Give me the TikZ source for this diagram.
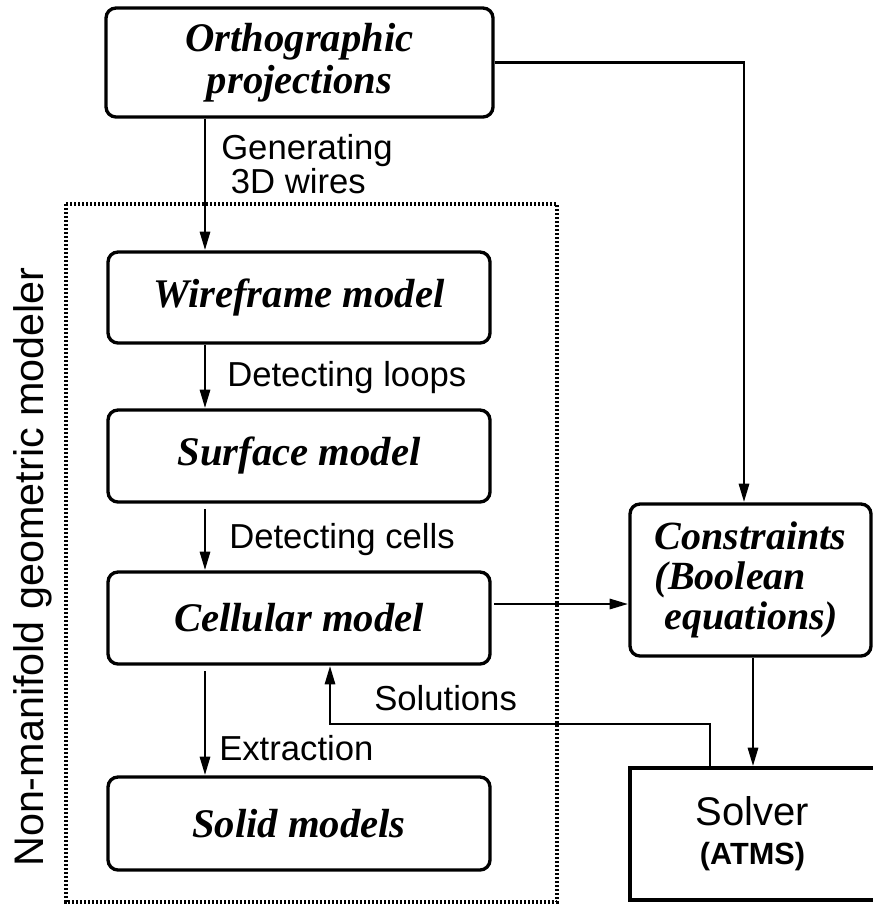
\documentclass[tikz,border=0pt]{standalone}
\usepackage{fontspec}
\setmainfont{Liberation Serif}
\setsansfont{Liberation Sans}
\usetikzlibrary{arrows.meta}
\begin{document}
\begin{tikzpicture}[x=0.75pt,y=-0.75pt,
  box/.style={draw, line width=2.5pt, rounded corners=7.5pt, inner sep=0pt,
    font=\fontsize{30.5}{31.5}\selectfont\bfseries\itshape},
  lbl/.style={font=\sffamily\fontsize{26}{26}\selectfont, inner sep=0pt, anchor=west, align=left},
  arr/.style={line width=2.2pt, -{Triangle[length=14pt,width=7.5pt]}},
  frame/.style={line width=2.4pt, dash pattern=on 1.7pt off 1.3pt}]
\useasboundingbox (0,0) rectangle (873,904);
% boxes
\node[box, minimum width=387*0.75pt, minimum height=109*0.75pt, align=center] (ortho) at (299.5,62.5) {Orthographic\\projections};
\node[box, minimum width=382*0.75pt, minimum height=91*0.75pt] (wire) at (299,297.5) {Wireframe model};
\node[box, minimum width=382*0.75pt, minimum height=92*0.75pt] (surf) at (299,456) {Surface model};
\node[box, minimum width=382*0.75pt, minimum height=92*0.75pt] (cell) at (299,618) {Cellular model};
\node[box, minimum width=382*0.75pt, minimum height=93*0.75pt] (solid) at (299,823.5) {Solid models};
\node[box, minimum width=241*0.75pt, minimum height=152*0.75pt, align=left,
  font=\fontsize{30}{30}\selectfont\bfseries\itshape] (cons) at (750.5,580) {Constraints\\(Boolean\\\ equations)};
\node[draw, line width=2.5pt, inner sep=0pt, minimum width=245*0.75pt, minimum height=132*0.75pt, align=center,
  font=\sffamily\fontsize{30}{30}\selectfont] (solver) at (752.5,834) {Solver\\[-1pt]{\fontsize{23}{23}\selectfont\bfseries (ATMS)}};
% dotted frame
\draw[frame] (66,204) rectangle (557,902);
% vertical label
\node[font=\sffamily\fontsize{31}{31}\selectfont, rotate=90, anchor=base, inner sep=0pt] (nmlabel) at (43,567) {Non-manifold geometric modeler};
% helper coordinates
\coordinate (xa) at (205,0);
\coordinate (xc) at (744,0);
\coordinate (ycc) at (0,604);
\coordinate (xs) at (753,0);
\coordinate (solA) at (710,0);
\coordinate (solB) at (330,724);
% connectors
\draw[arr] (ortho.south -| xa) -- (wire.north -| xa);
\draw[arr] (wire.south -| xa) -- (surf.north -| xa);
\draw[arr, shorten <=4pt] (surf.south -| xa) -- (cell.north -| xa);
\draw[arr, shorten <=4pt] (cell.south -| xa) -- (solid.north -| xa);
\draw[arr] (ortho.east) -| (xc |- cons.north);
\draw[arr, shorten <=2pt] (cell.east |- ycc) -- (cons.west |- ycc);
\draw[arr] (cons.south -| xs) -- (solver.north -| xs);
\draw[arr] (solver.north -| solA) |- (solB) -- (solB |- cell.south);
% labels
\node[lbl] (lgen) at (221,164) {Generating\\\ 3D wires};
\node[lbl] (lloops) at (227,378) {Detecting loops};
\node[lbl] (lcells) at (229,540) {Detecting cells};
\node[lbl] (lextr) at (219,748) {Extraction};
\node[lbl] (lsol) at (374,698) {Solutions};
\end{tikzpicture}
\end{document}
